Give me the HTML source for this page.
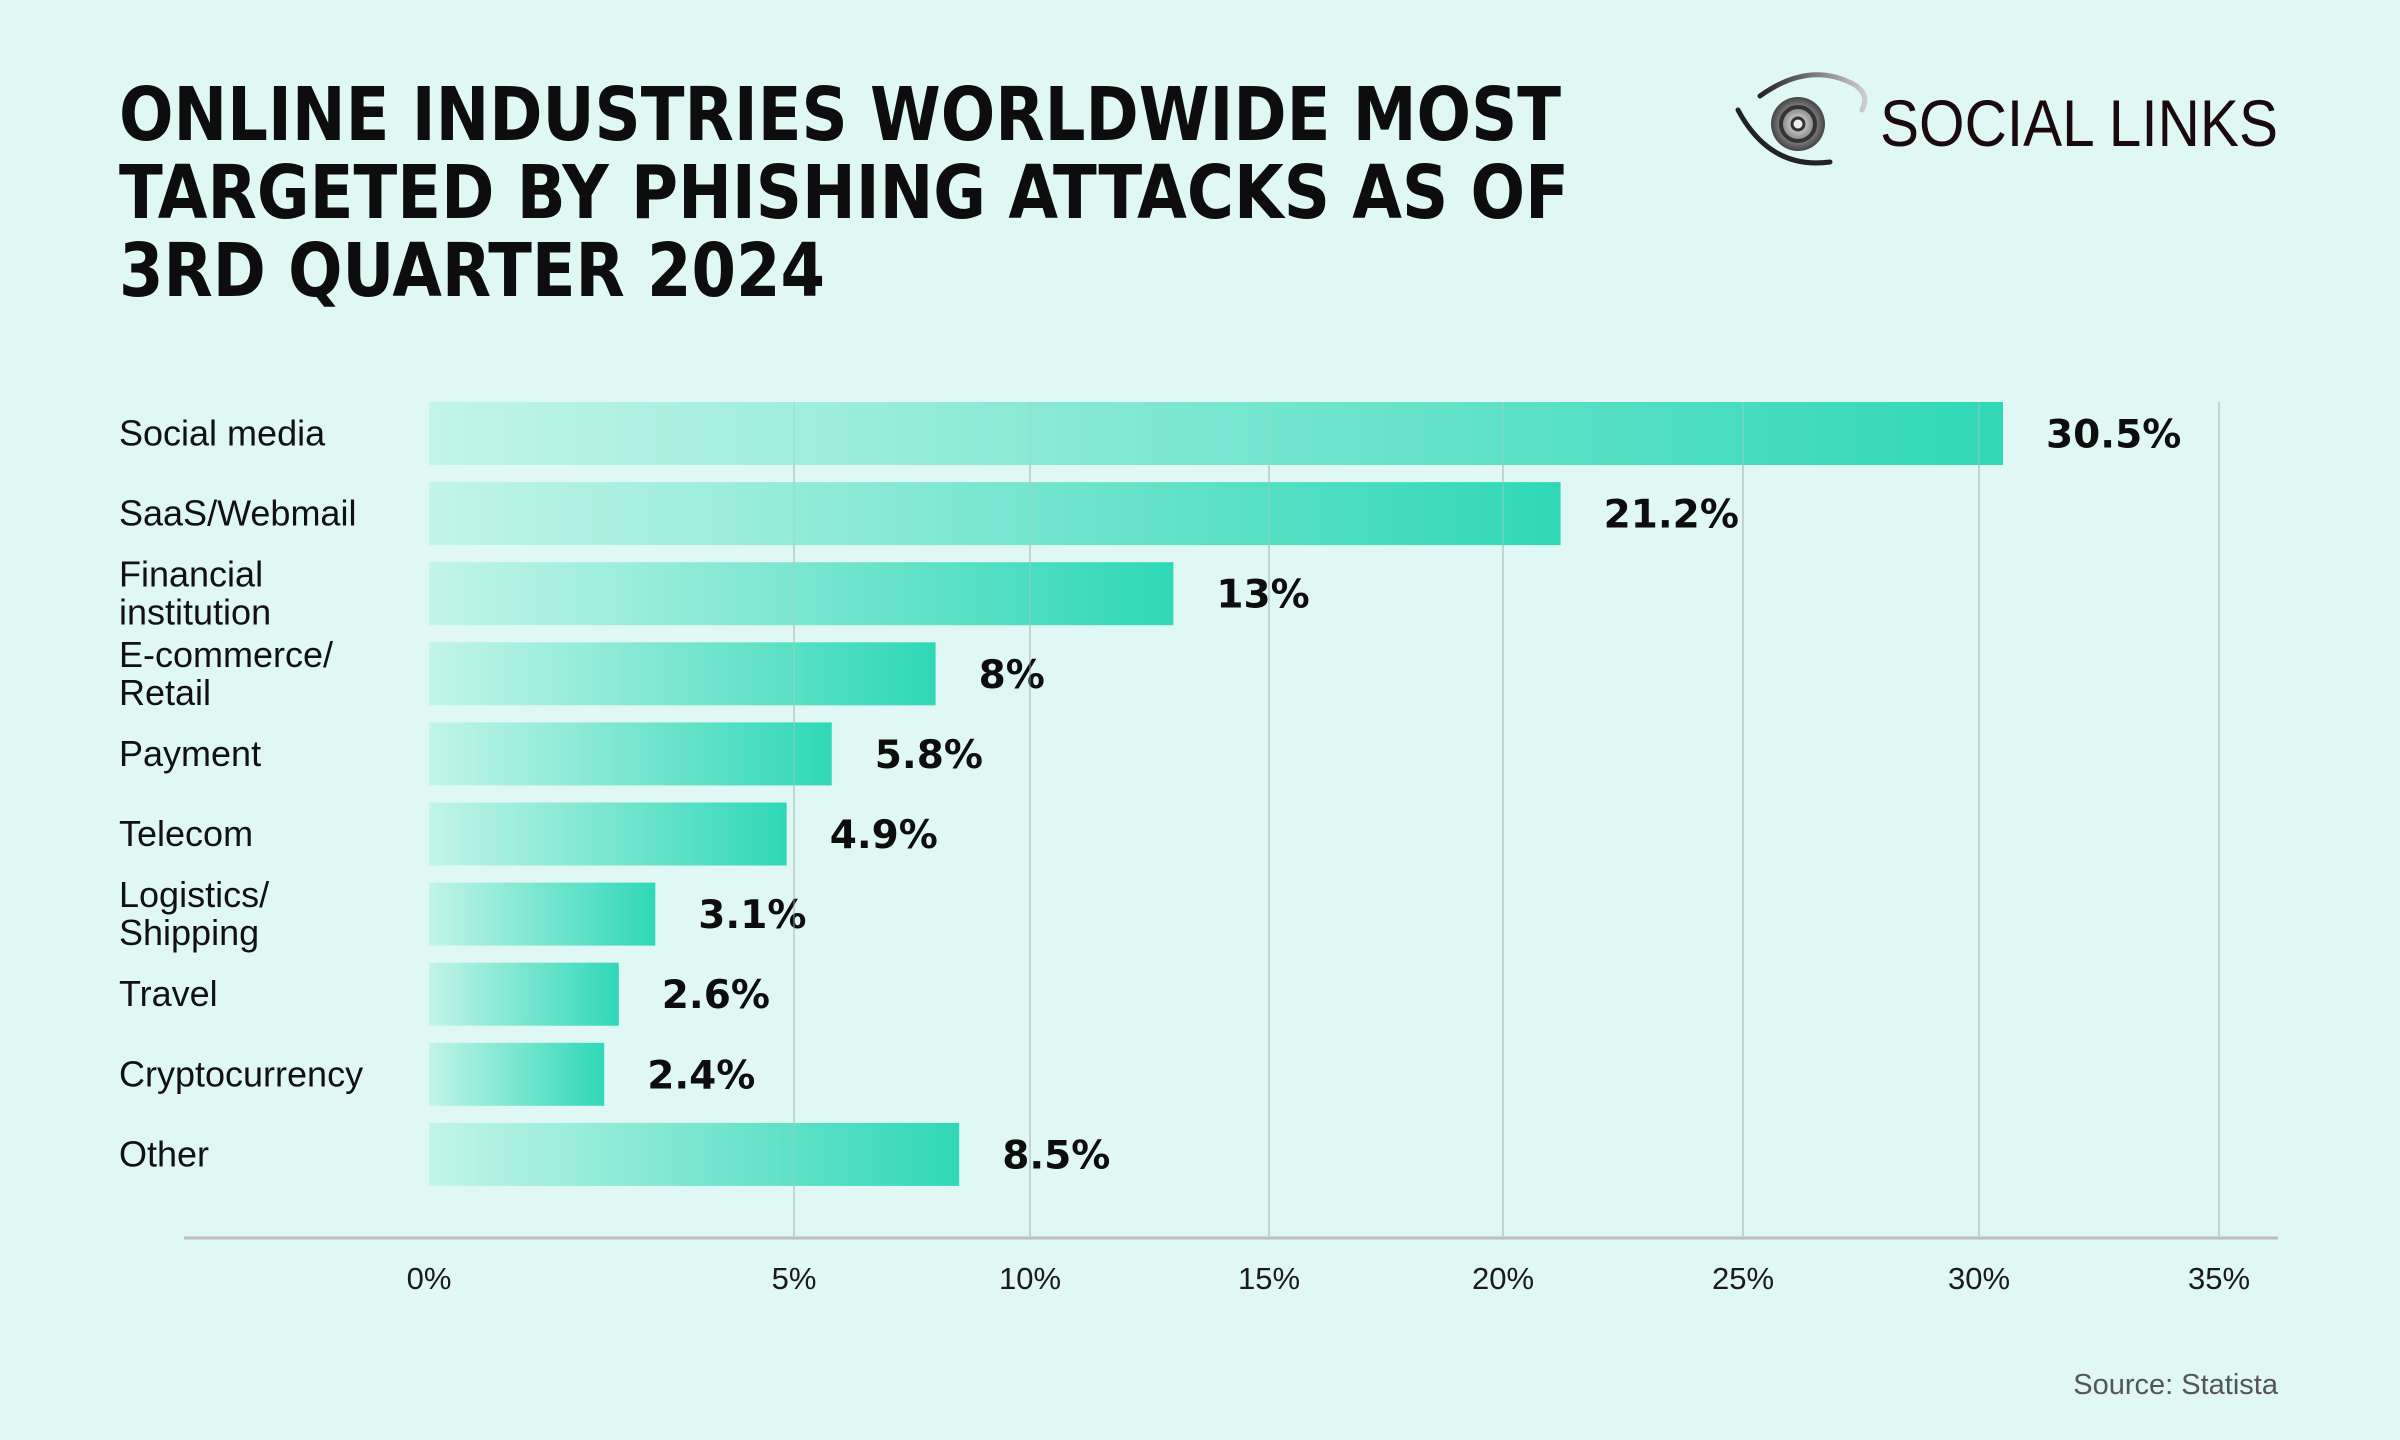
<!DOCTYPE html>
<html><head><meta charset="utf-8"><style>
html,body{margin:0;padding:0;background:#e0f8f4;}
svg{display:block;font-family:"Liberation Sans",sans-serif;}
</style></head><body>
<svg id="chart" width="2400" height="1440" viewBox="0 0 2400 1440" xmlns="http://www.w3.org/2000/svg">
<defs>
<linearGradient id="barGrad" x1="0" x2="1" y1="0" y2="0">
<stop offset="0" stop-color="#c2f4ea"/><stop offset="1" stop-color="#2fd8b6"/>
</linearGradient>
<linearGradient id="arcGrad" x1="0" x2="1"><stop offset="0" stop-color="#222"/><stop offset="1" stop-color="#ccc"/></linearGradient>
<radialGradient id="eyeGrad"><stop offset="0" stop-color="#eee"/><stop offset="1" stop-color="#444"/></radialGradient>
</defs>
<rect width="2400" height="1440" fill="#e0f8f4"/>
<g font-weight="900" font-size="74" fill="#0d0d0d" style="font-family:'DejaVu Sans','Liberation Sans',sans-serif">
<text x="119" y="140" textLength="1442" lengthAdjust="spacingAndGlyphs">ONLINE INDUSTRIES WORLDWIDE MOST</text>
<text x="119" y="218" textLength="1450" lengthAdjust="spacingAndGlyphs">TARGETED BY PHISHING ATTACKS AS OF</text>
<text x="119" y="296" textLength="706" lengthAdjust="spacingAndGlyphs">3RD QUARTER 2024</text>
</g>
<g>
<path d="M1738 110 Q1770 170 1830 162" stroke="#222" stroke-width="5" fill="none" stroke-linecap="round"/>
<path d="M1760 96 Q1810 60 1855 85 Q1870 95 1862 110" stroke="url(#arcGrad)" stroke-width="5" fill="none" stroke-linecap="round"/>
<circle cx="1798" cy="124" r="27" fill="url(#eyeGrad)"/>
<circle cx="1798" cy="124" r="17" fill="none" stroke="#333" stroke-width="4"/>
<circle cx="1798" cy="124" r="6" fill="#eee" stroke="#333" stroke-width="3"/>
<text x="1880" y="146" font-size="66" fill="#1a0a0d" textLength="398" lengthAdjust="spacingAndGlyphs">SOCIAL LINKS</text>
</g>
<g id="grid"></g>
<g id="bars"></g>
<g id="gridTop"></g>
<line x1="184" x2="2278" y1="1238" y2="1238" stroke="#bdbdbd" stroke-width="3"/>
<g id="ticks"></g>
<text x="2278" y="1394" text-anchor="end" font-size="29" fill="#555">Source: Statista</text>
</svg>
<script>
const categories = ["Social media","SaaS/Webmail","Financial institution","E-commerce/ Retail","Payment","Telecom","Logistics/ Shipping","Travel","Cryptocurrency","Other"];
const values = [30.5,21.2,13,8,5.8,4.9,3.1,2.6,2.4,8.5];
const valueLabels = ["30.5%","21.2%","13%","8%","5.8%","4.9%","3.1%","2.6%","2.4%","8.5%"];
const tickValues = [0,5,10,15,20,25,30,35];
const tickLabels = ["0%","5%","10%","15%","20%","25%","30%","35%"];
const tickPixels = [429,794,1030,1269,1503,1743,1979,2219];
const NS="http://www.w3.org/2000/svg";
function xScale(v){
  for(let i=0;i<tickValues.length-1;i++){
    if(v<=tickValues[i+1]||i===tickValues.length-2){
      const t=(v-tickValues[i])/(tickValues[i+1]-tickValues[i]);
      return tickPixels[i]+t*(tickPixels[i+1]-tickPixels[i]);
    }
  }
}
function yScale(i){return 402+i*80.1;}
const barH=63;
function mk(tag,attrs,parent){const e=document.createElementNS(NS,tag);for(const k in attrs)e.setAttribute(k,attrs[k]);parent.appendChild(e);return e;}
const grid=document.getElementById('grid'),gridTop=document.getElementById('gridTop'),bars=document.getElementById('bars'),ticks=document.getElementById('ticks');
tickValues.forEach((v,i)=>{
  const x=xScale(v);
  if(i>0){
    const l=mk('line',{x1:x,x2:x,y1:402,y2:1236,stroke:'#cfd8d6','stroke-width':2},grid);
    
    
    const l2=mk('line',{x1:x,x2:x,y1:402,y2:1236,stroke:'#a9cfc6','stroke-width':2,'stroke-opacity':0.35},gridTop);
    
    
  }
  const t=mk('text',{x:x,y:1289,'text-anchor':'middle','font-size':31,fill:'#1a1a1a'},ticks);
  t.textContent=tickLabels[i];
  
  
});
categories.forEach((c,i)=>{
  const y=yScale(i),x0=xScale(0),x1=xScale(values[i]);
  const r=mk('rect',{x:x0,y:y,width:x1-x0,height:barH,fill:'url(#barGrad)'},bars);
  
  
  const parts=c.split(' ');
  const lines=(c.includes('/ ')||c==="Financial institution")?[parts[0],parts.slice(1).join(' ')]:[c];
  const lab=mk('text',{x:119,'font-size':36,fill:'#111'},bars);
  
  
  const cy=y+barH/2;
  lines.forEach((ln,j)=>{
    const ts=mk('tspan',{x:119,y:lines.length===1?cy+12:cy-7+j*38},lab);
    ts.textContent=ln;
  });
  const v=mk('text',{x:x1+43,y:cy+14,'font-size':39,'font-weight':'900',fill:'#0d0d0d',style:"font-family:'DejaVu Sans','Liberation Sans',sans-serif"},bars);
  v.textContent=valueLabels[i];
  
  
});
</script>
</body></html>
